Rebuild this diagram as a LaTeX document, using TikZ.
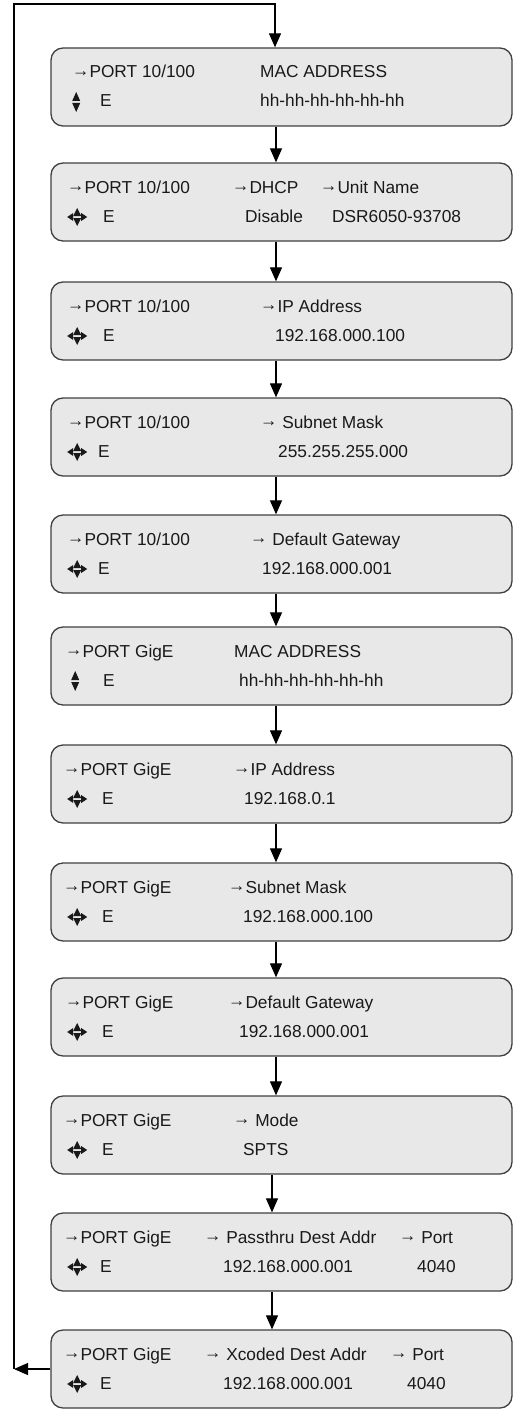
\documentclass[tikz,border=0pt]{standalone}
\usepackage{fontspec}
\setmainfont{Liberation Sans}
\usetikzlibrary{arrows.meta}

% keypad glyphs drawn as small filled triangles
\newcommand\updnkey{\tikz[baseline=0pt,x=1pt,y=1pt]{
    \fill (-4,6)--(4,6)--(0,15)--cycle;
    \fill (-4,4)--(4,4)--(0,-5)--cycle;}}
\newcommand\fourkey{\tikz[baseline=0pt,x=1pt,y=1pt]{
    \fill (6,6)--(14,6)--(10,14)--cycle;
    \fill (6,4)--(14,4)--(10,-4)--cycle;
    \fill (0,5)--(6,9)--(6,1)--cycle;
    \fill (20,5)--(14,9)--(14,1)--cycle;}}
\newcommand\ra{\raisebox{1.2pt}{→}}

\begin{document}
\begin{tikzpicture}[x=1pt, y=-1pt,
    panel/.style = {draw=black!75, line width=1.3pt, fill=black!9,
      rounded corners=12pt, minimum width=461pt, minimum height=78pt,
      inner sep=0pt},
    lbl/.style = {anchor=base west, inner sep=0pt, text=black!90,
      font=\fontsize{17.3}{20}\selectfont},
    link/.style = {-{Triangle[width=12pt,length=14pt]}, line width=1.2pt}]
  \useasboundingbox (0,0) rectangle (516,1410);

  % 1
  \node[panel] (b1) at (281.5,87) {};
  \node[lbl] (p1) at (72,78) {\ra PORT 10/100};
  \node[lbl] (k1) at (72,107) {\updnkey};
  \node[lbl] (e1) at (100,107) {E};
  \node[lbl] (h1) at (260,78) {MAC ADDRESS};
  \node[lbl] (v1) at (260,107) {hh-hh-hh-hh-hh-hh};
  % 2
  \node[panel] (b2) at (281.5,202) {};
  \node[lbl] (p2) at (67,193) {\ra PORT 10/100};
  \node[lbl] (k2) at (67,222) {\fourkey};
  \node[lbl] (e2) at (103,222) {E};
  \node[lbl] (h2) at (232,193) {\ra DHCP};
  \node[lbl] (u2) at (320,193) {\ra Unit Name};
  \node[lbl] (v2) at (245,222) {Disable};
  \node[lbl] (w2) at (332,222) {DSR6050-93708};
  % 3
  \node[panel] (b3) at (281.5,321) {};
  \node[lbl] (p3) at (67,312) {\ra PORT 10/100};
  \node[lbl] (k3) at (67,341) {\fourkey};
  \node[lbl] (e3) at (103,341) {E};
  \node[lbl] (h3) at (260,312) {\ra IP Address};
  \node[lbl] (v3) at (275,341) {192.168.000.100};
  % 4
  \node[panel] (b4) at (281.5,437) {};
  \node[lbl] (p4) at (67,428) {\ra PORT 10/100};
  \node[lbl] (k4) at (67,457) {\fourkey};
  \node[lbl] (e4) at (98,457) {E};
  \node[lbl] (h4) at (260,428) {\ra{} Subnet Mask};
  \node[lbl] (v4) at (278,457) {255.255.255.000};
  % 5
  \node[panel] (b5) at (281.5,554) {};
  \node[lbl] (p5) at (67,545) {\ra PORT 10/100};
  \node[lbl] (k5) at (67,574) {\fourkey};
  \node[lbl] (e5) at (98,574) {E};
  \node[lbl] (h5) at (250,545) {\ra{} Default Gateway};
  \node[lbl] (v5) at (262,574) {192.168.000.001};
  % 6
  \node[panel] (b6) at (281.5,666) {};
  \node[lbl] (p6) at (65,657) {\ra PORT GigE};
  \node[lbl] (k6) at (71,686) {\updnkey};
  \node[lbl] (e6) at (103,686) {E};
  \node[lbl] (h6) at (234,657) {MAC ADDRESS};
  \node[lbl] (v6) at (239,686) {hh-hh-hh-hh-hh-hh};
  % 7
  \node[panel] (b7) at (281.5,784) {};
  \node[lbl] (p7) at (63,775) {\ra PORT GigE};
  \node[lbl] (k7) at (67,804) {\fourkey};
  \node[lbl] (e7) at (102,804) {E};
  \node[lbl] (h7) at (233,775) {\ra IP Address};
  \node[lbl] (v7) at (244,804) {192.168.0.1};
  % 8
  \node[panel] (b8) at (281.5,902) {};
  \node[lbl] (p8) at (63,893) {\ra PORT GigE};
  \node[lbl] (k8) at (67,922) {\fourkey};
  \node[lbl] (e8) at (102,922) {E};
  \node[lbl] (h8) at (228,893) {\ra Subnet Mask};
  \node[lbl] (v8) at (243,922) {192.168.000.100};
  % 9
  \node[panel] (b9) at (281.5,1017) {};
  \node[lbl] (p9) at (65,1008) {\ra PORT GigE};
  \node[lbl] (k9) at (67,1037) {\fourkey};
  \node[lbl] (e9) at (102,1037) {E};
  \node[lbl] (h9) at (228,1008) {\ra Default Gateway};
  \node[lbl] (v9) at (239,1037) {192.168.000.001};
  % 10
  \node[panel] (b10) at (281.5,1135) {};
  \node[lbl] (p10) at (63,1126) {\ra PORT GigE};
  \node[lbl] (k10) at (67,1155) {\fourkey};
  \node[lbl] (e10) at (102,1155) {E};
  \node[lbl] (h10) at (233,1126) {\ra{} Mode};
  \node[lbl] (v10) at (243,1155) {SPTS};
  % 11
  \node[panel] (b11) at (281.5,1252) {};
  \node[lbl] (p11) at (63,1243) {\ra PORT GigE};
  \node[lbl] (k11) at (67,1272) {\fourkey};
  \node[lbl] (e11) at (100,1272) {E};
  \node[lbl] (h11) at (204,1243) {\ra{} Passthru Dest Addr};
  \node[lbl] (t11) at (399,1243) {\ra{} Port};
  \node[lbl] (v11) at (223,1272) {192.168.000.001};
  \node[lbl] (n11) at (417,1272) {4040};
  % 12
  \node[panel] (b12) at (281.5,1369) {};
  \node[lbl] (p12) at (63,1360) {\ra PORT GigE};
  \node[lbl] (k12) at (67,1389) {\fourkey};
  \node[lbl] (e12) at (100,1389) {E};
  \node[lbl] (h12) at (204,1360) {\ra{} Xcoded Dest Addr};
  \node[lbl] (t12) at (390,1360) {\ra{} Port};
  \node[lbl] (v12) at (223,1389) {192.168.000.001};
  \node[lbl] (n12) at (407,1389) {4040};

  % down the chain
  \foreach \a/\b in {1/2,2/3,3/4,4/5,5/6,6/7,7/8,8/9,9/10}
    \draw[link] ([xshift=-5.5pt]b\a.south) -- ([xshift=-5.5pt]b\b.north);
  \foreach \a/\b in {10/11,11/12}
    \draw[link] ([xshift=-9.5pt]b\a.south) -- ([xshift=-9.5pt]b\b.north);

  % back to the top
  \coordinate (corner) at (14,4);
  \coordinate (in1) at ([xshift=-6.5pt]b1.north);
  \draw[link] (b12.west) -- (b12.west -| corner);
  \draw[link] (b12.west -| corner) -- (corner) -- (corner -| in1) -- (in1);
\end{tikzpicture}
\end{document}
